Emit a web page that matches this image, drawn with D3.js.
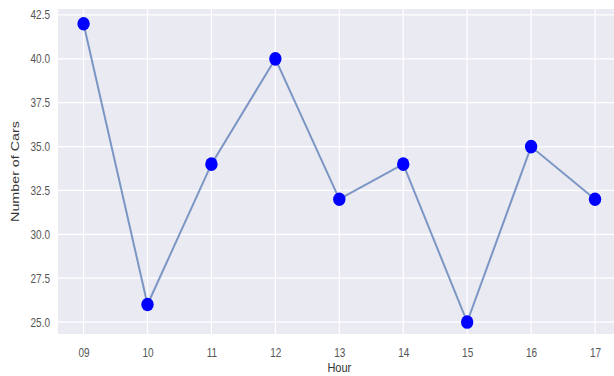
<!DOCTYPE html>
<html><head><meta charset="utf-8">
<script src="https://cdn.jsdelivr.net/npm/d3@7"></script>
<style>
body{margin:0;background:#fff;}
svg{display:block;font-family:"Liberation Sans",Arial,sans-serif;}
</style></head>
<body><svg id="c" width="614" height="376"></svg>
<script>
const hours = ["09","10","11","12","13","14","15","16","17"];
const cars = [42, 26, 34, 40, 32, 34, 25, 35, 32];
const yTicks = [25.0, 27.5, 30.0, 32.5, 35.0, 37.5, 40.0, 42.5];

(function () {
const svg = d3.select("#c");
const pLeft = 58, pRight = 620.6, pTop = 9, pBottom = 334;

const x = d3.scaleLinear().domain([-0.4, hours.length - 1 + 0.4]).range([pLeft, pRight]);
const y = d3.scaleLinear().domain([24.32, 42.84]).range([pBottom, pTop]);

svg.append("rect").attr("x", pLeft).attr("y", pTop)
  .attr("width", pRight - pLeft).attr("height", pBottom - pTop).attr("fill", "#eaeaf2");

const g = svg.append("g");
g.selectAll(".gy").data(yTicks).join("line")
  .attr("x1", pLeft).attr("x2", pRight)
  .attr("y1", d => y(d)).attr("y2", d => y(d))
  .attr("stroke", "#fff").attr("stroke-width", 1.2);
g.selectAll(".gx").data(hours).join("line")
  .attr("x1", (d, i) => x(i)).attr("x2", (d, i) => x(i))
  .attr("y1", pTop).attr("y2", pBottom)
  .attr("stroke", "#fff").attr("stroke-width", 1.2);

const yAxis = d3.axisLeft(y).tickValues(yTicks).tickFormat(d3.format(".1f")).tickSize(0).tickPadding(8);
const ya = svg.append("g").attr("transform", `translate(${pLeft},0)`).call(yAxis);
const xAxis = d3.axisBottom(x).tickValues(d3.range(hours.length)).tickFormat(i => hours[i]).tickSize(0).tickPadding(0);
const xa = svg.append("g").attr("transform", `translate(0,${pBottom})`).call(xAxis);
[ya, xa].forEach(a => {
  a.select(".domain").remove();
  a.selectAll("text").attr("fill", "#555").style("font-size", "10px");
});
ya.selectAll("text").attr("transform", "scale(1,1.25)");
xa.selectAll("text").attr("y", 0).attr("dy", "0.32em")
  .attr("transform", "translate(0,19) scale(1,1.25)");

const line = d3.line().x((d, i) => x(i)).y(d => y(d));
svg.append("path").datum(cars).attr("d", line)
  .attr("fill", "none").attr("stroke", "#4c72b0").attr("stroke-opacity", 0.7)
  .attr("stroke-width", 2);
svg.selectAll(".pt").data(cars).join("ellipse")
  .attr("cx", (d, i) => x(i)).attr("cy", d => y(d))
  .attr("rx", 6.2).attr("ry", 6.8).attr("fill", "#0000ff");

svg.append("text").attr("x", (pLeft + pRight) / 2).attr("y", 0).attr("dy", "0.35em")
  .attr("transform", "translate(0,367.5) scale(1,1.2)")
  .attr("text-anchor", "middle").attr("fill", "#333").style("font-size", "11px").text("Hour");
svg.append("text").attr("dy", "0.35em")
  .attr("transform", `translate(15,${(pTop + pBottom) / 2}) rotate(-90) scale(1.3,1)`)
  .attr("text-anchor", "middle").attr("fill", "#333").style("font-size", "11px").text("Number of Cars");
})();
</script></body></html>
